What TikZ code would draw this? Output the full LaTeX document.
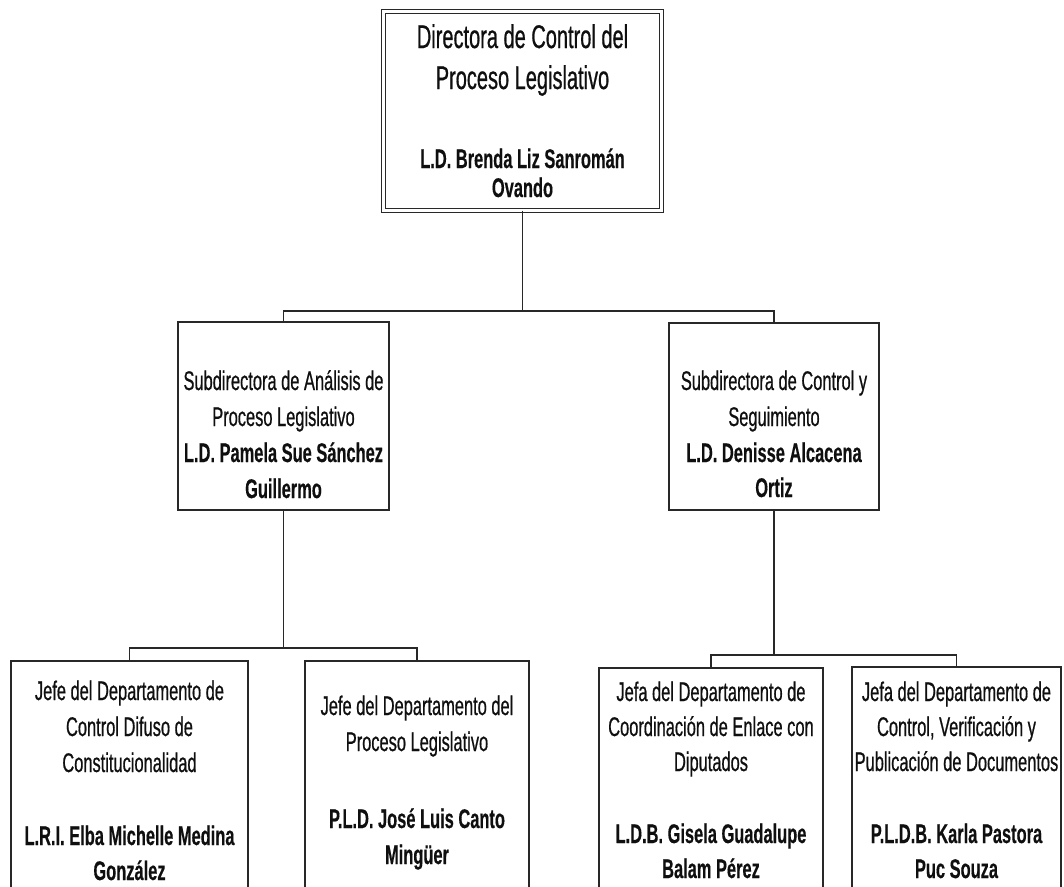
\documentclass[tikz,border=0pt]{standalone}
\usepackage{fontspec}
\setmainfont{Liberation Sans}[FakeStretch=0.61, UprightFeatures={FakeBold=0.6}, BoldFeatures={FakeBold=0.3}]
\begin{document}
\begin{tikzpicture}[x=0.75pt,y=-0.75pt,
  linec/.style={draw={rgb,255:red,40;green,40;blue,40}},
  box/.style={linec, line width=1.1pt, fill=none, inner sep=0pt, outer sep=0pt},
  topbox/.style={linec, line width=1pt, double, double distance=1.6pt, inner sep=0pt, outer sep=0pt},
  conn/.style={linec, line width=1.1pt},
  txt/.style={inner sep=0pt, anchor=base, text={rgb,255:red,15;green,15;blue,15}, font=\fontsize{20.2}{24}\selectfont},
  big/.style={txt, font=\fontsize{24.6}{28}\selectfont},
  nm/.style={txt, font=\fontsize{20.2}{24}\selectfont\bfseries}]
\useasboundingbox (0,0) rectangle (1064,886);
\clip (0,0) rectangle (1064,886);
\fill[white] (0,0) rectangle (1064,886);

% boxes
\node[topbox, minimum width=208.5pt, minimum height=149.25pt] (top) at (522.5,111) {};
\node[box, minimum width=158.25pt, minimum height=141pt] (s1) at (283.5,416) {};
\node[box, minimum width=157.5pt, minimum height=140.25pt] (s2) at (774,416.5) {};
\node[box, minimum width=177.75pt, minimum height=179.25pt] (b1) at (129.5,780.5) {};
\node[box, minimum width=168pt, minimum height=179.25pt] (b2) at (417,780.5) {};
\node[box, minimum width=168pt, minimum height=174pt] (b3) at (711,784) {};
\node[box, minimum width=156.75pt, minimum height=174.75pt] (b4) at (956.5,783.5) {};

% connectors
\coordinate (bus1) at (0,311);
\coordinate (bus2) at (0,648);
\coordinate (bus3) at (0,655);
\draw[conn] (top.south) -- (top.south |- bus1);
\draw[conn] (s1.north) |- (s2.north |- bus1) -- (s2.north);
\draw[conn] (s1.south) -- (s1.south |- bus2);
\draw[conn] (b1.north) |- (b2.north |- bus2) -- (b2.north);
\draw[conn] (s2.south) -- (s2.south |- bus3);
\draw[conn] (b3.north) |- (b4.north |- bus3) -- (b4.north);

% top box text
\node[big] (t0a) at (522.5,48) {Directora de Control del};
\node[big] (t0b) at (522.5,89) {Proceso Legislativo};
\node[nm] (t0c) at (522.5,168) {L.D. Brenda Liz Sanromán};
\node[nm] (t0d) at (522.5,197) {Ovando};

% sub left
\node[txt] (t1a) at (283.5,390) {Subdirectora de Análisis de};
\node[txt] (t1b) at (283.5,426) {Proceso Legislativo};
\node[nm] (t1c) at (283.5,462) {L.D. Pamela Sue Sánchez};
\node[nm] (t1d) at (283.5,498) {Guillermo};

% sub right
\node[txt] (t2a) at (774,390) {Subdirectora de Control y};
\node[txt] (t2b) at (774,426) {Seguimiento};
\node[nm] (t2c) at (774,462) {L.D. Denisse Alcacena};
\node[nm] (t2d) at (774,497) {Ortiz};

% bottom 1
\node[txt] (t3a) at (129.5,700) {Jefe del Departamento de};
\node[txt] (t3b) at (129.5,736) {Control Difuso de};
\node[txt] (t3c) at (129.5,772) {Constitucionalidad};
\node[nm] (t3d) at (129.5,845) {L.R.I. Elba Michelle Medina};
\node[nm] (t3e) at (129.5,880) {González};

% bottom 2
\node[txt] (t4a) at (417,715) {Jefe del Departamento del};
\node[txt] (t4b) at (417,751) {Proceso Legislativo};
\node[nm] (t4c) at (417,828) {P.L.D. José Luis Canto};
\node[nm] (t4d) at (417,864) {Mingüer};

% bottom 3
\node[txt] (t5a) at (711,701) {Jefa del Departamento de};
\node[txt] (t5b) at (711,736) {Coordinación de Enlace con};
\node[txt] (t5c) at (711,771) {Diputados};
\node[nm] (t5d) at (711,843) {L.D.B. Gisela Guadalupe};
\node[nm] (t5e) at (711,878) {Balam Pérez};

% bottom 4
\node[txt] (t6a) at (956.5,701) {Jefa del Departamento de};
\node[txt] (t6b) at (956.5,736) {Control, Verificación y};
\node[txt] (t6c) at (956.5,771) {Publicación de Documentos};
\node[nm] (t6d) at (956.5,843) {P.L.D.B. Karla Pastora};
\node[nm] (t6e) at (956.5,878) {Puc Souza};
\end{tikzpicture}
\end{document}
